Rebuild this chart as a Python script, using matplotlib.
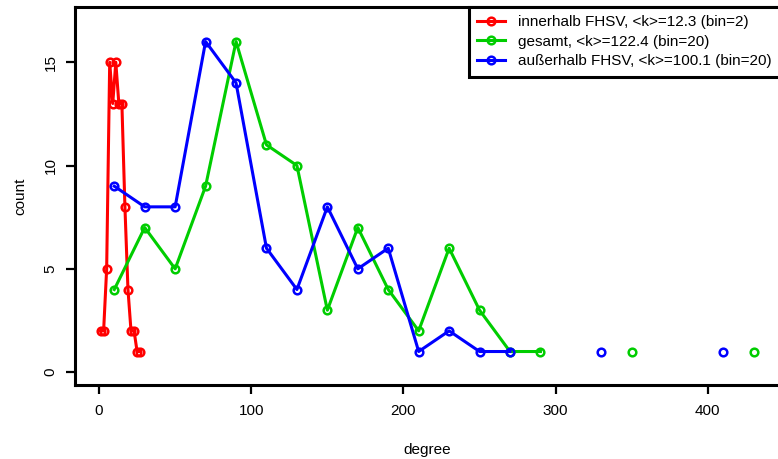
import numpy as np
import matplotlib
matplotlib.use("Agg")
import matplotlib.pyplot as plt

plt.rcParams['font.family'] = ['Liberation Sans', 'DejaVu Sans']

# innerhalb FHSV (bin=2)
inner_x = [1, 3, 5, 7, 9, 11, 13, 15, 17, 19, 21, 23, 25, 27]
inner_y = [2, 2, 5, 15, 13, 15, 13, 13, 8, 4, 2, 2, 1, 1]

# bins of width 20 (NaN = empty bin, line breaks there)
bin_x = [10, 30, 50, 70, 90, 110, 130, 150, 170, 190, 210, 230, 250, 270,
         290, 310, 330, 350, 370, 390, 410, 430]
total_y = [4, 7, 5, 9, 16, 11, 10, 3, 7, 4, 2, 6, 3, 1,
           1, np.nan, np.nan, 1, np.nan, np.nan, np.nan, 1]
outer_y = [9, 8, 8, 16, 14, 6, 4, 8, 5, 6, 1, 2, 1, 1,
           np.nan, np.nan, 1, np.nan, np.nan, np.nan, 1, np.nan]

labels = ["innerhalb FHSV, <k>=12.3 (bin=2)",
          "gesamt, <k>=122.4 (bin=20)",
          "außerhalb FHSV, <k>=100.1 (bin=20)"]
colors = ["#FF0000", "#00CD00", "#0000FF"]

fig = plt.figure(figsize=(7.78, 4.59), dpi=100)
ax = fig.add_axes([75 / 778, 1 - 385 / 459, 705 / 778, 378 / 459])

style = dict(marker='o', markerfacecolor='none', markersize=5.5,
             markeredgewidth=1.8, linewidth=2.2)
ax.plot(inner_x, inner_y, color=colors[0], label=labels[0], **style)
ax.plot(bin_x, total_y, color=colors[1], label=labels[1], **style)
ax.plot(bin_x, outer_y, color=colors[2], label=labels[2], **style)

ax.set_xlim(-15.8, 447.4)
ax.set_ylim(-0.62, 17.67)
ax.set_xticks([0, 100, 200, 300, 400])
ax.set_yticks([0, 5, 10, 15])
ax.tick_params(axis='both', direction='out', length=6.5, width=1.6,
               labelsize=11)
ax.tick_params(axis='x', pad=7)
ax.tick_params(axis='y', pad=6)
for lab in ax.get_yticklabels():
    lab.set_rotation(90)
    lab.set_va('center')
for sp in ax.spines.values():
    sp.set_linewidth(2.2)

ax.set_xlabel("degree", fontsize=11, labelpad=18)
ax.set_ylabel("count", fontsize=11, labelpad=12)

leg = ax.legend(loc='upper right', bbox_to_anchor=(1, 1), borderaxespad=0,
                fontsize=11, fancybox=False, framealpha=1, edgecolor='black',
                handlelength=1.8, handletextpad=0.85, labelspacing=0.35,
                borderpad=0.55)
leg.get_frame().set_linewidth(2.2)

fig.savefig("out.png", dpi=100)
